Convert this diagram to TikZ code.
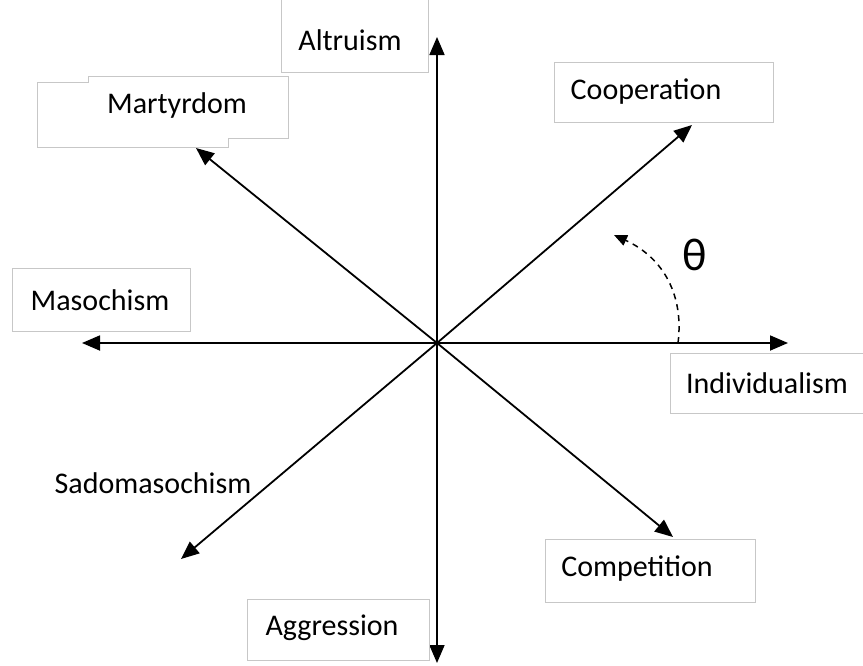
\documentclass[tikz,border=0pt]{standalone}
\usepackage{fontspec}
\setmainfont{Carlito}
\usetikzlibrary{arrows.meta}

\begin{document}
\begin{tikzpicture}[x=1pt,y=-1pt,
    axis/.style={line width=1.8pt, -{Triangle[length=18pt,width=15pt]}},
    boxline/.style={draw=black!22, line width=1pt},
    lbl/.style={font=\fontsize{30pt}{35pt}\selectfont, inner sep=0pt}]
    \useasboundingbox (0,0) rectangle (863,665);
    % axes
    \coordinate (O) at (437,343);
    \coordinate (up) at (437,37);
    \coordinate (down) at (437,663);
    \coordinate (left) at (82,343);
    \coordinate (right) at (788,343);
    \coordinate (ne) at (692,125);
    \coordinate (nw) at (196,148);
    \coordinate (sw) at (181,559);
    \coordinate (se) at (673,537);
    \foreach \t in {up,down,left,right,ne,nw,sw,se}
        \draw [axis] (O) -- (\t);
    % label boxes
    \draw [boxline] (281,-2) rectangle (428,72);
    \draw [boxline] (37,82) -- (88,82) -- (88,76) -- (288,76) -- (288,138)
        -- (228,138) -- (228,147) -- (37,147) -- cycle;
    \draw [boxline] (554,62) rectangle (773,122);
    \draw [boxline] (12,268) rectangle (190,331);
    \draw [boxline] (670,353) rectangle (866,413);
    \draw [boxline] (545,539) rectangle (755,602);
    \draw [boxline] (247,599) rectangle (429,660);
    % labels
    \node [lbl] (altr) at (350,40) {Altruism};
    \node [lbl] (mart) at (177,105) {Martyrdom};
    \node [lbl] (coop) at (646,92) {Cooperation};
    \node [lbl] (maso) at (100,300) {Masochism};
    \node [lbl] (indi) at (767,383) {Individualism};
    \node [lbl] (sado) at (153,483) {Sadomasochism};
    \node [lbl] (comp) at (637,569) {Competition};
    \node [lbl] (aggr) at (332,628) {Aggression};
    % angle
    \coordinate (th0) at (678,343);
    \coordinate (th1) at (614,235);
    \draw [line width=1.5pt, dash pattern=on 6pt off 5pt,
        -{Triangle[length=13pt,width=11pt]}]
        (th0) .. controls (684,296) and (664,258) .. (th1);
    \node [font=\fontsize{46pt}{50pt}\selectfont, inner sep=0pt] (theta) at (695,255) {θ};
\end{tikzpicture}
\end{document}
